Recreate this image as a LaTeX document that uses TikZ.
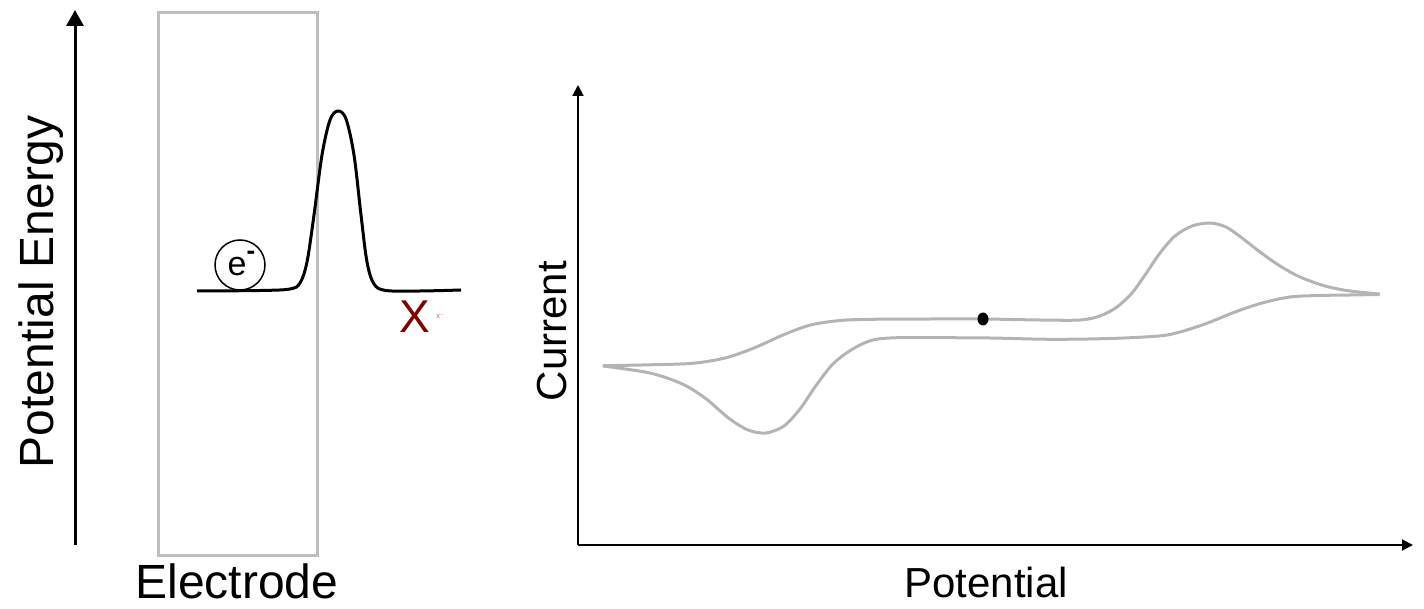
\documentclass[tikz,border=0pt]{standalone}
\usepackage{fontspec}
\setmainfont{Liberation Sans}
\newfontfamily\dejavu{DejaVu Sans}
\usetikzlibrary{arrows.meta,shapes.geometric}
\definecolor{boxgray}{RGB}{190,190,190}
\definecolor{cvgray}{RGB}{180,180,180}
\definecolor{xred}{RGB}{128,0,0}
\definecolor{xpale}{RGB}{200,110,110}
\tikzset{
  axisbig/.style={line width=3pt,-{Triangle[width=17pt,length=16pt]}},
  axissmall/.style={line width=2pt,-{Triangle[width=11pt,length=11pt]}},
  lbl/.style={font=\fontsize{48}{50}\selectfont,inner sep=0pt},
  lbls/.style={font=\fontsize{42}{44}\selectfont,inner sep=0pt},
  cv/.style={cvgray,line width=3pt,line join=round},
}
\begin{document}
\begin{tikzpicture}[x=1pt,y=-1pt]
\useasboundingbox (0,0) rectangle (1424,609);
% left panel
\coordinate (pe0) at (75,545);
\coordinate (pe1) at (75,10);
\draw[axisbig] (pe0) -- (pe1);
\node[lbl,rotate=90,anchor=base] (pelbl) at (53,292) {Potential Energy};
\draw[boxgray,line width=3pt] (158,13) rectangle (317,555);
\node[lbl,anchor=base] (elec) at (237,598) {Electrode};
\draw[black,line width=3pt,line join=round] plot[smooth,tension=0.55] coordinates {
 (197,291) (260,290.5) (290,289) (300,283) (307,262) (314,215) (322,155) (330,120) (338,111) (346,119) (354,155) (361,215) (367,262) (374,284) (386,290.5) (420,291) (461,290)};
\node[draw,circle,line width=1.5pt,minimum size=50pt,inner sep=0pt] (eminus) at (240,265) {};
\node[inner sep=0pt,font=\fontsize{34}{36}\selectfont,anchor=base] (etext) at (237,276) {e};
\node[inner sep=0pt,font=\fontsize{26}{28}\selectfont\bfseries,anchor=base] (eminus2) at (251,260) {-};
\node[inner sep=0pt,font=\fontsize{46}{48}\selectfont,text=xred,anchor=base] (X) at (414.5,333) {X};
\node[inner sep=0pt,font=\dejavu\fontsize{7}{8}\selectfont,text=xpale,anchor=base] (xm) at (440,319) {x⁻};
% right panel
\coordinate (o) at (578,545);
\coordinate (ytop) at (578,85);
\coordinate (xend) at (1413,545);
\draw[axissmall] (o) -- (ytop);
\draw[axissmall] (o) -- (xend);
\node[lbls,rotate=90,anchor=base] (cur) at (566,331) {Current};
\node[lbls,anchor=base] (pot) at (986,597) {Potential};
\draw[cv] plot[smooth,tension=0.5] coordinates {
 (602.8,365.7) (650,364.8) (692.6,363.3) (725,358) (754,348) (783,335) (810.5,325) (840,320.5) (872,319.3) (930,319) (983.8,319) (1040,320) (1080,320) (1100,316) (1117,307) (1132,293) (1145,275) (1160,253) (1175,236) (1192,226) (1210,223) (1226,227) (1242,238) (1260,252) (1280,266) (1300,277) (1325,286) (1350,291) (1379.7,294)};
\draw[cv] plot[smooth,tension=0.5] coordinates {
 (1379.7,294.5) (1350,295) (1318,295.5) (1290,297) (1262,303) (1235,312) (1205,324) (1180,332) (1159,336) (1110,338.5) (1051.5,339.3) (990,338) (940,337.7) (897.7,337.7) (875,339.5) (860,345) (845,354) (831,366) (815,387) (800,409) (784,426) (766,433) (748,430) (728.5,418) (705,398) (682.3,384) (650,373) (602.8,366)};
\node[fill=black,ellipse,inner sep=0pt,minimum width=11pt,minimum height=13pt] (dot) at (983,319) {};
\end{tikzpicture}
\end{document}
